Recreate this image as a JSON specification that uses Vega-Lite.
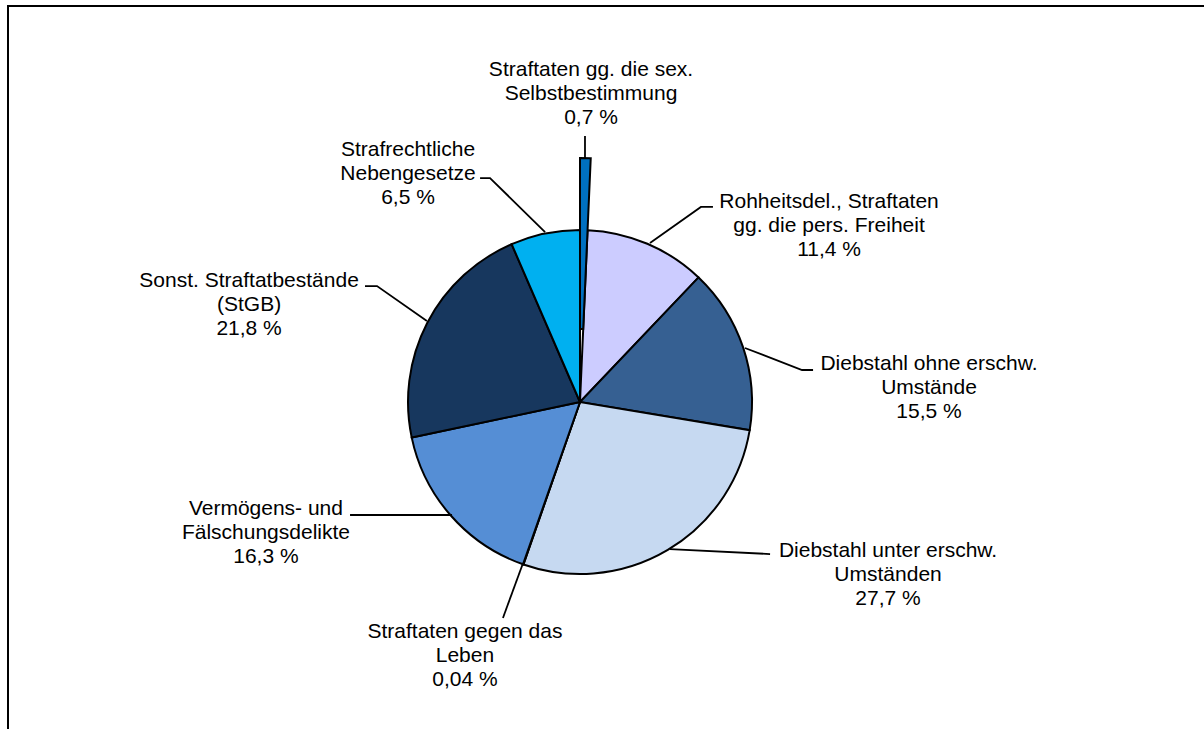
{
  "$schema": "https://vega.github.io/schema/vega-lite/v6.json",
  "width": 1204,
  "height": 729,
  "autosize": {"type": "fit", "contains": "padding"},
  "padding": {"left": 8, "top": 6, "right": -6, "bottom": -6},
  "background": "white",
  "config": {"view": {"stroke": "black", "strokeWidth": 2}},
  "datasets": {
    "slices": [
      {"key": "sex", "pct": 0.7, "rank": 1},
      {"key": "roh", "pct": 11.4, "rank": 2},
      {"key": "dohne", "pct": 15.5, "rank": 3},
      {"key": "dunter", "pct": 27.7, "rank": 4},
      {"key": "leben", "pct": 0.04, "rank": 5},
      {"key": "verm", "pct": 16.3, "rank": 6},
      {"key": "sonst", "pct": 21.8, "rank": 7},
      {"key": "neben", "pct": 6.5, "rank": 8}
    ],
    "leaders": [
      {"id": "sex", "seq": 1, "x": 0.029, "y": 1.547},
      {"id": "sex", "seq": 2, "x": 0.029, "y": 1.419},
      {"id": "neben", "seq": 1, "x": -0.581, "y": 1.302},
      {"id": "neben", "seq": 2, "x": -0.523, "y": 1.302},
      {"id": "neben", "seq": 3, "x": -0.203, "y": 0.988},
      {"id": "roh", "seq": 1, "x": 0.773, "y": 1.134},
      {"id": "roh", "seq": 2, "x": 0.703, "y": 1.134},
      {"id": "roh", "seq": 3, "x": 0.407, "y": 0.924},
      {"id": "dohne", "seq": 1, "x": 0.959, "y": 0.314},
      {"id": "dohne", "seq": 2, "x": 1.291, "y": 0.186},
      {"id": "dohne", "seq": 3, "x": 1.355, "y": 0.186},
      {"id": "dunter", "seq": 1, "x": 0.523, "y": -0.855},
      {"id": "dunter", "seq": 2, "x": 1.105, "y": -0.884},
      {"id": "leben", "seq": 1, "x": -0.331, "y": -0.936},
      {"id": "leben", "seq": 2, "x": -0.448, "y": -1.256},
      {"id": "verm", "seq": 1, "x": -1.337, "y": -0.657},
      {"id": "verm", "seq": 2, "x": -0.744, "y": -0.657},
      {"id": "sonst", "seq": 1, "x": -1.25, "y": 0.674},
      {"id": "sonst", "seq": 2, "x": -1.18, "y": 0.674},
      {"id": "sonst", "seq": 3, "x": -0.89, "y": 0.471}
    ],
    "labels": [
      {"label": "Straftaten gg. die sex.\nSelbstbestimmung\n0,7 %", "x": 0.064, "y": 1.791},
      {"label": "Strafrechtliche\nNebengesetze\n6,5 %", "x": -1.0, "y": 1.326},
      {"label": "Rohheitsdel., Straftaten\ngg. die pers. Freiheit\n11,4 %", "x": 1.448, "y": 1.023},
      {"label": "Diebstahl ohne erschw.\nUmstände\n15,5 %", "x": 2.029, "y": 0.081},
      {"label": "Diebstahl unter erschw.\nUmständen\n27,7 %", "x": 1.791, "y": -1.006},
      {"label": "Straftaten gegen das\nLeben\n0,04 %", "x": -0.669, "y": -1.477},
      {"label": "Vermögens- und\nFälschungsdelikte\n16,3 %", "x": -1.826, "y": -0.762},
      {"label": "Sonst. Straftatbestände\n(StGB)\n21,8 %", "x": -1.924, "y": 0.564}
    ]
  },
  "layer": [
    {
      "data": {"name": "slices"},
      "mark": {"type": "arc", "outerRadius": 172, "stroke": "black", "strokeWidth": 2},
      "encoding": {
        "x": {"datum": 0, "type": "quantitative", "scale": {"domain": [-3.3256, 3.6628], "nice": false, "zero": false}, "axis": null},
        "y": {"datum": 0, "type": "quantitative", "scale": {"domain": [-1.936, 2.3023], "nice": false, "zero": false}, "axis": null},
        "theta": {"field": "pct", "type": "quantitative", "stack": true},
        "order": {"field": "rank", "type": "quantitative"},
        "color": {
          "field": "key", "type": "nominal",
          "scale": {
            "domain": ["sex", "roh", "dohne", "dunter", "leben", "verm", "sonst", "neben"],
            "range": ["#0070C0", "#CCCCFF", "#366092", "#C6D9F1", "#8DB4E3", "#558ED5", "#17375E", "#00B0F0"]
          },
          "legend": null
        },
        "opacity": {"condition": {"test": "datum.key === 'sex'", "value": 0}, "value": 1}
      }
    },
    {
      "data": {"name": "slices"},
      "mark": {"type": "arc", "outerRadius": 244, "innerRadius": 73, "stroke": "black", "strokeWidth": 2},
      "encoding": {
        "x": {"datum": 0, "type": "quantitative", "scale": {"domain": [-3.3256, 3.6628], "nice": false, "zero": false}, "axis": null},
        "y": {"datum": 0, "type": "quantitative", "scale": {"domain": [-1.936, 2.3023], "nice": false, "zero": false}, "axis": null},
        "theta": {"field": "pct", "type": "quantitative", "stack": true},
        "order": {"field": "rank", "type": "quantitative"},
        "color": {"field": "key", "type": "nominal", "legend": null},
        "opacity": {"condition": {"test": "datum.key === 'sex'", "value": 1}, "value": 0}
      }
    },
    {
      "data": {"name": "leaders"},
      "mark": {"type": "line", "color": "black", "strokeWidth": 1.8},
      "encoding": {
        "x": {"field": "x", "type": "quantitative", "scale": {"domain": [-3.3256, 3.6628], "nice": false, "zero": false}, "axis": null},
        "y": {"field": "y", "type": "quantitative", "scale": {"domain": [-1.936, 2.3023], "nice": false, "zero": false}, "axis": null},
        "detail": {"field": "id", "type": "nominal"},
        "order": {"field": "seq", "type": "quantitative"}
      }
    },
    {
      "data": {"name": "labels"},
      "mark": {"type": "text", "font": "Liberation Sans", "fontSize": 21, "lineHeight": 24, "align": "center", "baseline": "middle", "dy": -24, "lineBreak": "\n", "color": "black"},
      "encoding": {
        "x": {"field": "x", "type": "quantitative", "scale": {"domain": [-3.3256, 3.6628], "nice": false, "zero": false}, "axis": null},
        "y": {"field": "y", "type": "quantitative", "scale": {"domain": [-1.936, 2.3023], "nice": false, "zero": false}, "axis": null},
        "text": {"field": "label", "type": "nominal"}
      }
    }
  ]
}
